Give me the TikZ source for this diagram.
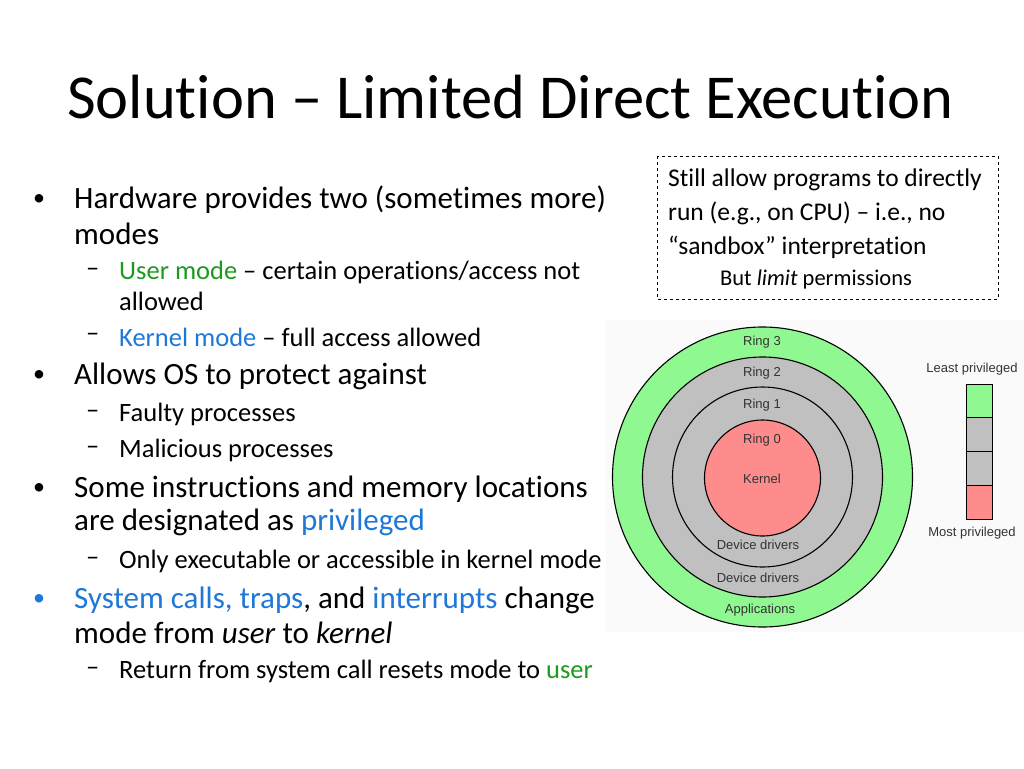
\documentclass[tikz,border=0pt]{standalone}
\usepackage{fontspec}
\setmainfont{Carlito}[Ligatures=NoCommon]
\newfontfamily\ringfont{Liberation Sans}
\definecolor{linkblue}{HTML}{1F78D8}
\definecolor{usergreen}{HTML}{1E9A1E}
\definecolor{ringgreen}{HTML}{90F890}
\definecolor{ringgray}{HTML}{C0C0C0}
\definecolor{ringred}{HTML}{FF8C8C}
\tikzset{
% text styles for the slide body
bullet text/.style={anchor=west,font=\fontsize{31}{36}\selectfont,inner sep=0},
sub text/.style={anchor=west,font=\fontsize{26.5}{30}\selectfont,inner sep=0},
note text/.style={anchor=west,font=\fontsize{25.5}{30}\selectfont,inner sep=0},
ring label/.style={font=\ringfont\fontsize{13}{15}\selectfont,text=black!80},
ring/.style={circle,draw=black,line width=1.1pt}
}
\begin{document}
\begin{tikzpicture}[x=1pt,y=-1pt]
\useasboundingbox (0,0) rectangle (1024,768);
\fill[white] (0,0) rectangle (1024,768);
% Title
\node[anchor=west,font=\fontsize{62.5}{66}\selectfont,inner sep=0] (title) at (67,97) {Solution -- Limited Direct Execution};
% Bullets
\node[bullet text,font=\fontsize{24}{28}\selectfont] (b1) at (33,200) {\textbullet};
\node[bullet text] (b1t) at (74,200) {Hardware provides two (sometimes more)};
\node[bullet text] (b1u) at (74,234) {modes};
\node[sub text] (s1d) at (86,272) {--};
\node[sub text] (s1) at (119,272) {\textcolor{usergreen}{User mode} -- certain operations/access not};
\node[sub text] (s1u) at (119,301) {allowed};
\node[sub text] (s2d) at (86,337) {--};
\node[sub text] (s2) at (119,337) {\textcolor{linkblue}{Kernel mode} -- full access allowed};
\node[bullet text,font=\fontsize{24}{28}\selectfont] (b2) at (33,376) {\textbullet};
\node[bullet text] (b2t) at (74,376) {Allows OS to protect against};
\node[sub text] (s3d) at (86,414) {--};
\node[sub text] (s3) at (119,414) {Faulty processes};
\node[sub text] (s4d) at (86,450) {--};
\node[sub text] (s4) at (119,450) {Malicious processes};
\node[bullet text,font=\fontsize{24}{28}\selectfont] (b3) at (33,489) {\textbullet};
\node[bullet text] (b3t) at (74,489) {Some instructions and memory locations};
\node[bullet text] (b3u) at (74,522) {are designated as \textcolor{linkblue}{privileged}};
\node[sub text] (s5d) at (86,561) {--};
\node[sub text] (s5) at (119,561) {Only executable or accessible in kernel mode};
\node[bullet text,font=\fontsize{24}{28}\selectfont,text=linkblue] (b4) at (33,600) {\textbullet};
\node[bullet text] (b4t) at (74,600) {\textcolor{linkblue}{System calls, traps}, and \textcolor{linkblue}{interrupts} change};
\node[bullet text] (b4u) at (74,633) {mode from \textit{user} to \textit{kernel}};
\node[sub text] (s6d) at (86,671) {--};
\node[sub text] (s6) at (119,671) {Return from system call resets mode to \textcolor{usergreen}{user}};
% Dashed note box
\draw[dashed,line width=0.9pt] (657,156) rectangle (998,299);
\node[note text] (n1) at (668,180) {Still allow programs to directly};
\node[note text] (n2) at (668,213) {run (e.g., on CPU) -- i.e., no};
\node[note text] (n3) at (668,247) {``sandbox'' interpretation};
\node[font=\fontsize{22.5}{26}\selectfont,inner sep=0] (n4) at (816,279) {But \textit{limit} permissions};
% Protection rings
\fill[black!2] (606,320) rectangle (1024,632);
\node[ring,fill=ringgreen,minimum size=300pt] (r3) at (762.5,477) {};
\node[ring,fill=ringgray,minimum size=240pt] (r2) at (762.5,477) {};
\node[ring,fill=ringgray,minimum size=180pt] (r1) at (762.5,477) {};
\node[ring,fill=ringred,minimum size=116pt] (r0) at (762.5,478) {};
\node[ring label] at (762,342) {Ring 3};
\node[ring label] at (762,373) {Ring 2};
\node[ring label] at (762,405) {Ring 1};
\node[ring label] at (762,440) {Ring 0};
\node[ring label] at (762,479) {Kernel};
\node[ring label] at (758,545) {Device drivers};
\node[ring label] at (758,578) {Device drivers};
\node[ring label] at (760,610) {Applications};
% Privilege bar
\foreach \c [count=\i from 0] in {ringgreen,ringgray,ringgray,ringred}
  \draw[fill=\c,line width=0.9pt] (966,384+33.75*\i) rectangle (992,384+33.75*\i+33.75);
\node[ring label] (least) at (972,369) {Least privileged};
\node[ring label] (most) at (972,533) {Most privileged};
\end{tikzpicture}
\end{document}
